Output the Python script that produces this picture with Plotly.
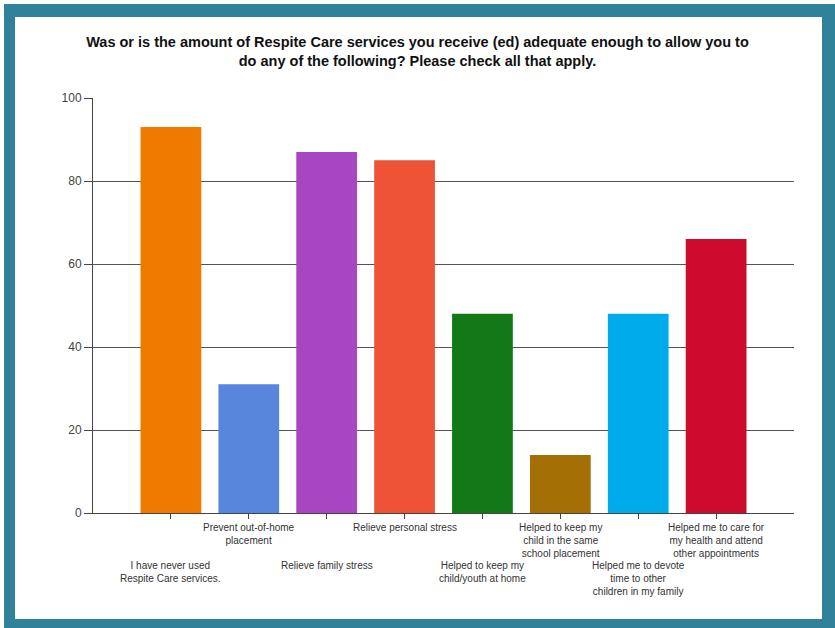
import plotly.graph_objects as go

# ---- data ----
categories = [
    "I have never used<br>Respite Care services.",
    "Prevent out-of-home<br>placement",
    "Relieve family stress",
    "Relieve personal stress",
    "Helped to keep my<br>child/youth at home",
    "Helped to keep my<br>child in the same<br>school placement",
    "Helped me to devote<br>time to other<br>children in my family",
    "Helped me to care for<br>my health and attend<br>other appointments",
]
values = [93, 31, 87, 85, 48, 14, 48, 66]
bar_colors = ["#F07A00", "#5886DC", "#A845C2", "#EE5336", "#137818",
              "#A47006", "#00ABEC", "#CD0B2F"]
label_row = [1, 0, 1, 0, 1, 0, 1, 0]  # 0 = upper row, 1 = lower row
y_ticks = [0, 20, 40, 60, 80, 100]
title_text = ("Was or is the amount of Respite Care services you receive (ed) adequate enough to allow you to"
              "<br>do any of the following? Please check all that apply.")

W, H = 835, 628
ML, MR, MT, MB = 93, 41, 98, 115
PW, PH = W - ML - MR, H - MT - MB


def px_x(p):
    return (p - ML) / PW


def px_y(p):
    return (H - MB - p) / PH


fig = go.Figure()
fig.add_trace(go.Bar(
    x=categories, y=values,
    marker=dict(color=bar_colors, line=dict(width=0)),
    hoverinfo="x+y",
))

# staggered category labels
for cat, row in zip(categories, label_row):
    fig.add_annotation(
        x=cat, y=0, xref="x", yref="y", text=cat, showarrow=False,
        yanchor="top", xanchor="center", yshift=-7 if row == 0 else -45,
        font=dict(family="Liberation Sans, Arial, sans-serif", size=10, color="#333333"),
        align="center",
    )

# frame: teal border with white inner panel
fig.add_shape(type="rect", xref="paper", yref="paper", layer="below",
              x0=px_x(4), x1=px_x(W + 2), y0=px_y(H + 2), y1=px_y(4),
              fillcolor="#30829B", line=dict(width=0))
fig.add_shape(type="rect", xref="paper", yref="paper", layer="below",
              x0=px_x(15), x1=px_x(822), y0=px_y(619), y1=px_y(17),
              fillcolor="white", line=dict(width=0))
# right end tick of x axis
fig.add_shape(type="line", xref="x domain", yref="y", ysizemode="pixel", yanchor=0,
              x0=1, x1=1, y0=0, y1=-5, line=dict(color="#444444", width=1))

fig.update_layout(
    width=W, height=H,
    margin=dict(l=ML, r=MR, t=MT, b=MB, pad=0),
    paper_bgcolor="white", plot_bgcolor="rgba(0,0,0,0)",
    title=dict(text=title_text, x=0.5, xref="container", xanchor="center",
               y=1 - 47 / H, yref="container", yanchor="top",
               font=dict(family="Liberation Sans, Arial, sans-serif", size=14.5, color="#111111",
                         weight="bold")),
    bargap=0.22,
    showlegend=False,
    xaxis=dict(
        type="category", range=[-1, len(categories)],
        showticklabels=False, ticks="outside", ticklen=5, tickcolor="#444444",
        showline=True, linecolor="#444444", linewidth=1,
        showgrid=False, zeroline=False, fixedrange=True,
    ),
    yaxis=dict(
        range=[0, 100], tickvals=y_ticks, ticks="outside", ticklen=8,
        tickcolor="#444444", showline=True, linecolor="#444444", linewidth=1,
        showgrid=True, gridcolor="#555555", gridwidth=1, zeroline=False,
        tickfont=dict(family="Liberation Sans, Arial, sans-serif", size=12, color="#444444"),
        fixedrange=True,
    ),
)

fig.write_html("out.html")
